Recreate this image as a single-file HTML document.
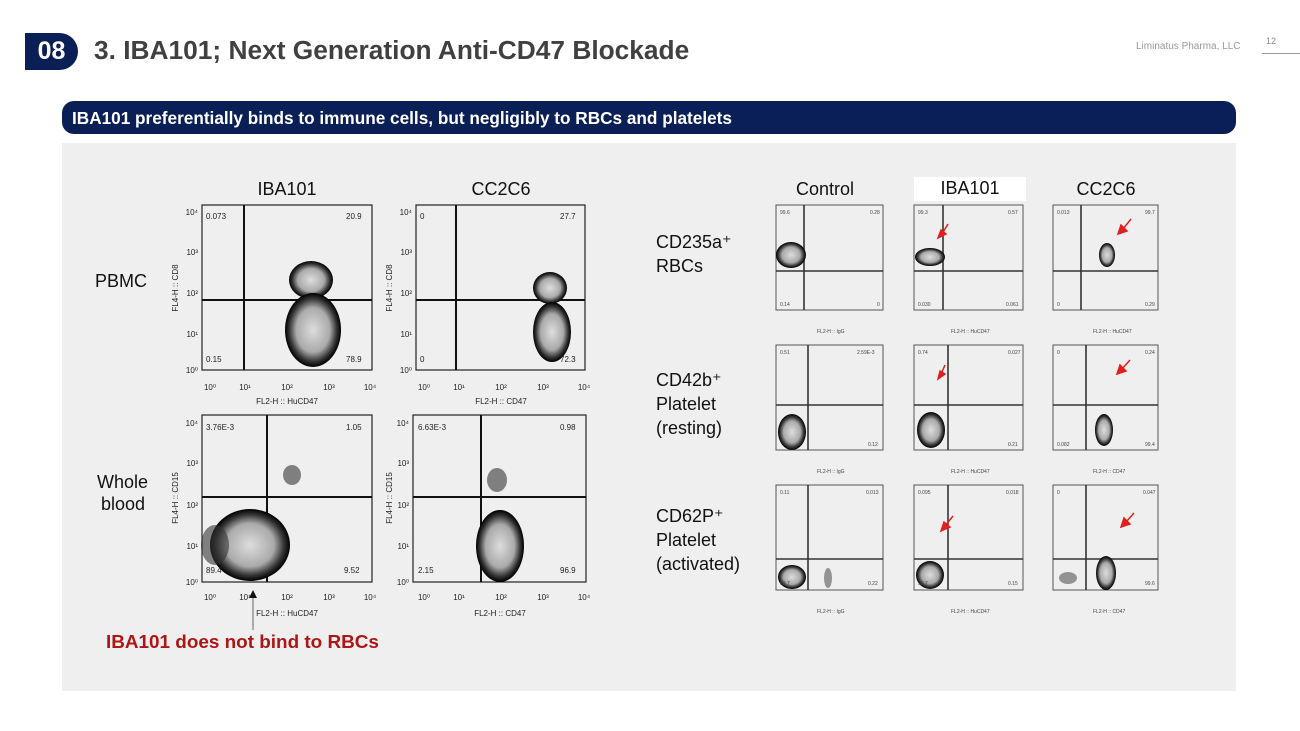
<!DOCTYPE html>
<html><head><meta charset="utf-8"><style>
body{margin:0;width:1300px;height:731px;background:#fff;overflow:hidden;font-family:"Liberation Sans",sans-serif;position:relative}
.a{position:absolute}
</style></head><body>
<div class="a" style="left:25px;top:33px;width:53px;height:37px;background:#0b1f57;border-radius:0 19px 19px 0;color:#fff;font-weight:bold;font-size:25px;line-height:37px;text-align:center">08</div>
<div class="a" style="left:94px;top:35px;font-size:26.3px;font-weight:bold;color:#404040">3. IBA101; Next Generation Anti-CD47 Blockade</div>
<div class="a" style="left:1136px;top:41px;font-size:10px;color:#999">Liminatus Pharma, LLC</div>
<div class="a" style="left:1266px;top:36px;font-size:9px;color:#888">12</div>
<div class="a" style="left:1262px;top:53px;width:38px;height:1px;background:#999"></div>
<div class="a" style="left:62px;top:101px;width:1174px;height:33px;background:#0b1f57;border-radius:12px;color:#fff;font-weight:bold;font-size:17.2px;line-height:34px;box-sizing:border-box;padding-left:10px">IBA101 preferentially binds to immune cells, but negligibly to RBCs and platelets</div>
<div class="a" style="left:62px;top:143px;width:1174px;height:548px;background:#efefef"></div>
<svg class="a" style="left:0;top:0" width="1300" height="731" font-family="Liberation Sans, sans-serif">
<defs>
<radialGradient id="bl"><stop offset="0" stop-color="#ddd"/><stop offset="0.6" stop-color="#aaa"/><stop offset="0.85" stop-color="#333"/><stop offset="1" stop-color="#000"/></radialGradient>
</defs>
<g font-size="18" fill="#111">
<text x="287" y="195" text-anchor="middle">IBA101</text>
<text x="501" y="195" text-anchor="middle">CC2C6</text>
<text x="95" y="287">PBMC</text>
<text x="97" y="488">Whole</text><text x="101" y="510">blood</text>
<rect x="914" y="177" width="112" height="24" fill="#fff"/>
<text x="825" y="195" text-anchor="middle">Control</text>
<text x="970" y="194" text-anchor="middle">IBA101</text>
<text x="1106" y="195" text-anchor="middle">CC2C6</text>
<text x="656" y="248">CD235a⁺</text><text x="656" y="272">RBCs</text>
<text x="656" y="386">CD42b⁺</text><text x="656" y="410">Platelet</text><text x="656" y="434">(resting)</text>
<text x="656" y="522">CD62P⁺</text><text x="656" y="546">Platelet</text><text x="656" y="570">(activated)</text>
</g>
<text x="106" y="648" font-size="18.9" font-weight="bold" fill="#b01515">IBA101 does not bind to RBCs</text>
<line x1="253" y1="630" x2="253" y2="598" stroke="#666"/>
<path d="M249 598 L253 590 L257 598Z" fill="#111"/>
<g stroke="#222" fill="none" stroke-width="1.2">
<rect x="202" y="205" width="170" height="165"/><rect x="416" y="205" width="169" height="165"/>
<rect x="202" y="415" width="170" height="167"/><rect x="413" y="415" width="173" height="167"/>
</g>
<g stroke="#111" stroke-width="2">
<line x1="244" y1="205" x2="244" y2="370"/><line x1="202" y1="300" x2="372" y2="300"/>
<line x1="456" y1="205" x2="456" y2="370"/><line x1="416" y1="300" x2="585" y2="300"/>
<line x1="267" y1="415" x2="267" y2="582"/><line x1="202" y1="497" x2="372" y2="497"/>
<line x1="481" y1="415" x2="481" y2="582"/><line x1="413" y1="497" x2="586" y2="497"/>
</g>
<g fill="url(#bl)">
<ellipse cx="311" cy="280" rx="22" ry="19"/><ellipse cx="313" cy="330" rx="28" ry="37"/>
<ellipse cx="550" cy="288" rx="17" ry="16"/><ellipse cx="552" cy="332" rx="19" ry="30"/>
<ellipse cx="250" cy="545" rx="40" ry="36"/><ellipse cx="500" cy="546" rx="24" ry="36"/>
</g>
<g fill="#333" opacity="0.6"><ellipse cx="292" cy="475" rx="9" ry="10"/><ellipse cx="497" cy="480" rx="10" ry="12"/><ellipse cx="215" cy="545" rx="14" ry="20"/></g>
<g font-size="8" fill="#222">
<text x="206" y="219">0.073</text><text x="346" y="219">20.9</text><text x="206" y="362">0.15</text><text x="346" y="362">78.9</text>
<text x="420" y="219">0</text><text x="560" y="219">27.7</text><text x="420" y="362">0</text><text x="560" y="362">72.3</text>
<text x="206" y="430">3.76E-3</text><text x="346" y="430">1.05</text><text x="206" y="573">89.4</text><text x="344" y="573">9.52</text>
<text x="418" y="430">6.63E-3</text><text x="560" y="430">0.98</text><text x="418" y="573">2.15</text><text x="560" y="573">96.9</text>
<text x="287" y="404" text-anchor="middle">FL2-H :: HuCD47</text><text x="501" y="404" text-anchor="middle">FL2-H :: CD47</text>
<text x="287" y="616" text-anchor="middle">FL2-H :: HuCD47</text><text x="500" y="616" text-anchor="middle">FL2-H :: CD47</text>
<text transform="translate(178,288) rotate(-90)" text-anchor="middle">FL4-H :: CD8</text>
<text transform="translate(392,288) rotate(-90)" text-anchor="middle">FL4-H :: CD8</text>
<text transform="translate(178,498) rotate(-90)" text-anchor="middle">FL4-H :: CD15</text>
<text transform="translate(392,498) rotate(-90)" text-anchor="middle">FL4-H :: CD15</text>
<g text-anchor="middle">
<text x="210" y="390">10⁰</text><text x="245" y="390">10¹</text><text x="287" y="390">10²</text><text x="329" y="390">10³</text><text x="370" y="390">10⁴</text>
<text x="424" y="390">10⁰</text><text x="459" y="390">10¹</text><text x="501" y="390">10²</text><text x="543" y="390">10³</text><text x="584" y="390">10⁴</text>
<text x="210" y="600">10⁰</text><text x="245" y="600">10¹</text><text x="287" y="600">10²</text><text x="329" y="600">10³</text><text x="370" y="600">10⁴</text>
<text x="424" y="600">10⁰</text><text x="459" y="600">10¹</text><text x="501" y="600">10²</text><text x="543" y="600">10³</text><text x="584" y="600">10⁴</text>
</g>
<g text-anchor="end">
<text x="198" y="215">10⁴</text><text x="198" y="255">10³</text><text x="198" y="296">10²</text><text x="198" y="337">10¹</text><text x="198" y="373">10⁰</text>
<text x="412" y="215">10⁴</text><text x="412" y="255">10³</text><text x="412" y="296">10²</text><text x="412" y="337">10¹</text><text x="412" y="373">10⁰</text>
<text x="198" y="426">10⁴</text><text x="198" y="466">10³</text><text x="198" y="508">10²</text><text x="198" y="549">10¹</text><text x="198" y="585">10⁰</text>
<text x="409" y="426">10⁴</text><text x="409" y="466">10³</text><text x="409" y="508">10²</text><text x="409" y="549">10¹</text><text x="409" y="585">10⁰</text>
</g>
</g>
<g stroke="#555" fill="none" stroke-width="1">
<rect x="776" y="205" width="107" height="105"/><rect x="914" y="205" width="109" height="105"/><rect x="1053" y="205" width="105" height="105"/>
<rect x="776" y="345" width="107" height="105"/><rect x="914" y="345" width="109" height="105"/><rect x="1053" y="345" width="105" height="105"/>
<rect x="776" y="485" width="107" height="105"/><rect x="914" y="485" width="109" height="105"/><rect x="1053" y="485" width="105" height="105"/>
</g>
<g stroke="#333" stroke-width="1.6">
<line x1="804" y1="205" x2="804" y2="310"/><line x1="776" y1="271" x2="883" y2="271"/>
<line x1="943" y1="205" x2="943" y2="310"/><line x1="914" y1="271" x2="1023" y2="271"/>
<line x1="1081" y1="205" x2="1081" y2="310"/><line x1="1053" y1="271" x2="1158" y2="271"/>
<line x1="808" y1="345" x2="808" y2="450"/><line x1="776" y1="405" x2="883" y2="405"/>
<line x1="948" y1="345" x2="948" y2="450"/><line x1="914" y1="405" x2="1023" y2="405"/>
<line x1="1086" y1="345" x2="1086" y2="450"/><line x1="1053" y1="405" x2="1158" y2="405"/>
<line x1="808" y1="485" x2="808" y2="590"/><line x1="776" y1="559" x2="883" y2="559"/>
<line x1="948" y1="485" x2="948" y2="590"/><line x1="914" y1="559" x2="1023" y2="559"/>
<line x1="1086" y1="485" x2="1086" y2="590"/><line x1="1053" y1="559" x2="1158" y2="559"/>
</g>
<g fill="url(#bl)">
<ellipse cx="791" cy="255" rx="15" ry="13"/><ellipse cx="930" cy="257" rx="15" ry="9"/><ellipse cx="1107" cy="255" rx="8" ry="12"/>
<ellipse cx="792" cy="432" rx="14" ry="18"/><ellipse cx="931" cy="430" rx="14" ry="18"/><ellipse cx="1104" cy="430" rx="9" ry="16"/>
<ellipse cx="792" cy="577" rx="14" ry="12"/><ellipse cx="930" cy="575" rx="14" ry="14"/><ellipse cx="1106" cy="573" rx="10" ry="17"/>
</g>
<g fill="#555" opacity="0.6"><ellipse cx="828" cy="578" rx="4" ry="10"/><ellipse cx="1068" cy="578" rx="9" ry="6"/></g>
<g stroke="#e02020" stroke-width="1.5" fill="#e02020">
<line x1="948" y1="224" x2="942" y2="234"/><path d="M938 238 L946 234 L941 230Z"/>
<line x1="1131" y1="219" x2="1123" y2="229"/><path d="M1118 234 L1127 231 L1121 225Z"/>
<line x1="945" y1="365" x2="941" y2="374"/><path d="M938 379 L945 374 L940 371Z"/>
<line x1="1130" y1="360" x2="1122" y2="369"/><path d="M1117 374 L1126 371 L1120 365Z"/>
<line x1="953" y1="516" x2="945" y2="526"/><path d="M941 531 L950 527 L944 522Z"/>
<line x1="1134" y1="513" x2="1126" y2="522"/><path d="M1121 527 L1130 524 L1124 518Z"/>
</g>
<g font-size="5" fill="#444">
<text x="780" y="214">99.6</text><text x="870" y="214">0.28</text><text x="780" y="306">0.14</text><text x="877" y="306">0</text>
<text x="918" y="214">99.3</text><text x="1008" y="214">0.57</text><text x="918" y="306">0.030</text><text x="1006" y="306">0.061</text>
<text x="1057" y="214">0.013</text><text x="1145" y="214">99.7</text><text x="1057" y="306">0</text><text x="1145" y="306">0.29</text>
<text x="780" y="354">0.51</text><text x="857" y="354">2.59E-3</text><text x="868" y="446">0.12</text>
<text x="918" y="354">0.74</text><text x="1008" y="354">0.027</text><text x="1008" y="446">0.21</text>
<text x="1057" y="354">0</text><text x="1145" y="354">0.24</text><text x="1057" y="446">0.082</text><text x="1145" y="446">99.4</text>
<text x="780" y="494">0.11</text><text x="866" y="494">0.013</text><text x="780" y="585">99.7</text><text x="868" y="585">0.22</text>
<text x="918" y="494">0.095</text><text x="1006" y="494">0.018</text><text x="918" y="585">99.7</text><text x="1008" y="585">0.15</text>
<text x="1057" y="494">0</text><text x="1143" y="494">0.047</text><text x="1145" y="585">99.6</text>
<text x="817" y="333">FL2-H :: IgG</text><text x="951" y="333">FL2-H :: HuCD47</text><text x="1093" y="333">FL2-H :: HuCD47</text>
<text x="817" y="473">FL2-H :: IgG</text><text x="951" y="473">FL2-H :: HuCD47</text><text x="1093" y="473">FL2-H :: CD47</text>
<text x="817" y="613">FL2-H :: IgG</text><text x="951" y="613">FL2-H :: HuCD47</text><text x="1093" y="613">FL2-H :: CD47</text>
</g>
</svg>
</body></html>
